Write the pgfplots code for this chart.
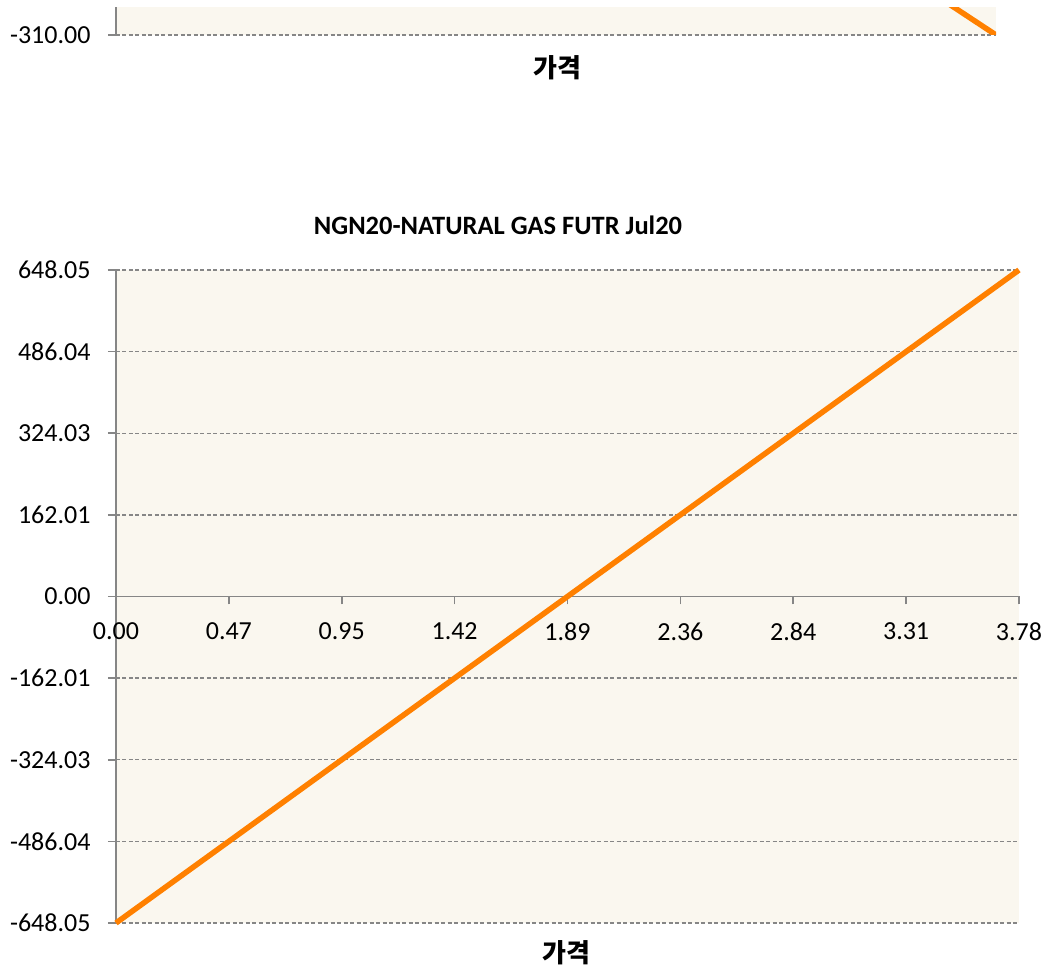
\documentclass[border=0pt]{standalone}
\usepackage{pgfplots}
\pgfplotsset{compat=1.18}
\usepackage{fontspec}
\setmainfont{Carlito}
\newfontfamily\kr{Noto Sans CJK KR}
\definecolor{bg}{RGB}{250,247,239}
\definecolor{ln}{RGB}{255,128,0}
\definecolor{gr}{RGB}{134,134,134}
\begin{document}
\begin{tikzpicture}
\useasboundingbox (0pt,0pt) rectangle (1045pt,973pt);
\clip (0pt,0pt) rectangle (1045pt,965pt);
\pgfplotsset{
  common/.style={
    scale only axis,
    axis background/.style={fill=bg},
    axis line style={gr, line width=1.6pt},
    ymajorgrids,
    grid style={gr, line width=1.4pt, dash pattern=on 4pt off 2.5pt},
    tick align=outside, major tick length=8pt,
    tick style={gr, line width=1.6pt},
    ticklabel style={font=\fontsize{26}{31}\selectfont},
    yticklabel style={xshift=-14pt},
  }
}
% partial chart above (cut off)
\begin{axis}[common,
  at={(116pt,938pt)}, anchor=south west, width=880pt, height=653pt,
  xmin=0, xmax=1, ymin=-310, ymax=310,
  axis x line=none, axis y line*=left,
  xtick=\empty, ytick={-310}, yticklabels={-310.00},
]
\addplot[ln, line width=5.5pt] coordinates {(0,241) (1,-310)};
\end{axis}
% main chart
\begin{axis}[common,
  at={(116pt,50pt)}, anchor=south west, width=903pt, height=653pt,
  xmin=0, xmax=3.78, ymin=-648.05, ymax=648.05,
  axis x line*=middle, axis y line*=left,
  hide obscured x ticks=false,
  xtick={0,0.4725,0.945,1.4175,1.89,2.3625,2.835,3.3075,3.78},
  xticklabels={0.00,0.47,0.95,1.42,1.89,2.36,2.84,3.31,3.78},
  ytick={-648.05,-486.04,-324.03,-162.01,0,162.01,324.03,486.04,648.05},
  yticklabels={-648.05,-486.04,-324.03,-162.01,0.00,162.01,324.03,486.04,648.05},
  xticklabel style={yshift=-15pt},
  clip=false,
]
\addplot[ln, line width=5.5pt] coordinates {(0,-648.05) (1.89,0) (3.78,648.05)};
\end{axis}
\node[font=\bfseries\fontsize{26.5}{31}\selectfont] at (498pt,748pt) {NGN20-NATURAL GAS FUTR Jul20};
\node[font=\kr\bfseries\fontsize{26}{31}\selectfont] at (566pt,20pt) {가격};
\node[font=\kr\bfseries\fontsize{26}{31}\selectfont] at (557pt,905pt) {가격};
\end{tikzpicture}
\end{document}
